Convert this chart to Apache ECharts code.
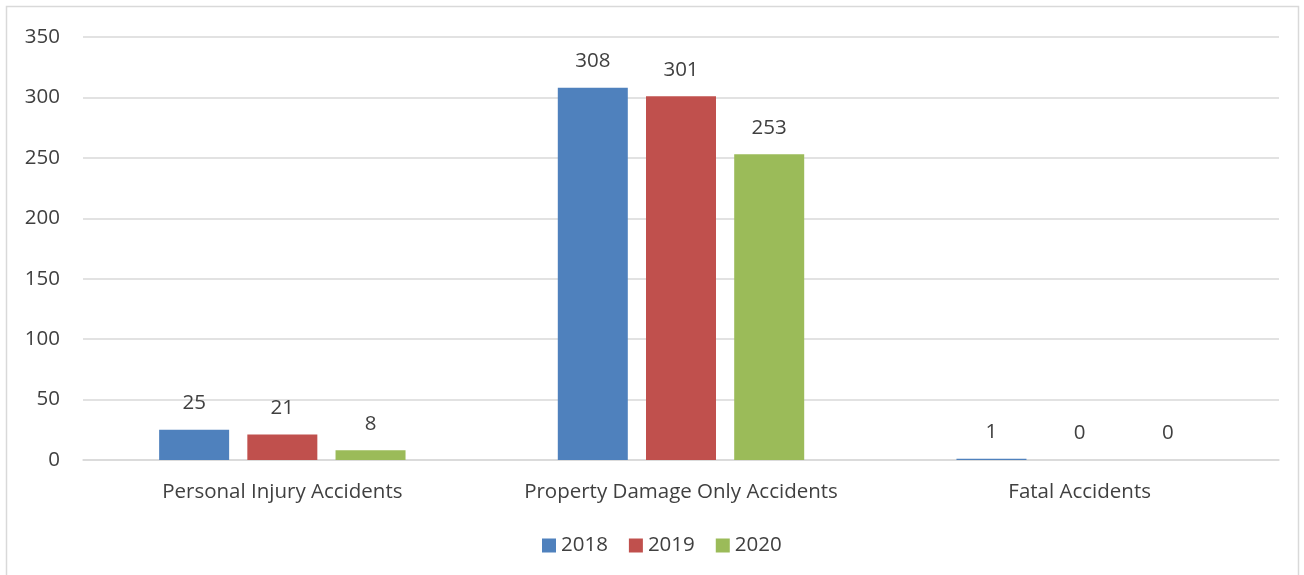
<!DOCTYPE html>
<html>
<head>
<meta charset="utf-8">
<script src="https://cdn.jsdelivr.net/npm/echarts@6.0.0/dist/echarts.min.js"></script>
<style>
  html, body { margin: 0; padding: 0; background: #fff; }
  #chart { width: 1304px; height: 575px; }
</style>
</head>
<body>
<div id="chart"></div>
<script>
var chartDom = document.getElementById('chart');
var myChart = echarts.init(chartDom);

const categories = ['Personal Injury Accidents', 'Property Damage Only Accidents', 'Fatal Accidents'];
const years = ['2018', '2019', '2020'];
const values2018 = [25, 308, 1];
const values2019 = [21, 301, 0];
const values2020 = [8, 253, 0];
const yTicks = [0, 50, 100, 150, 200, 250, 300, 350];

const colors = ['#4f81bd', '#c0504d', '#9bbb59'];
const font = '"Open Sans", "Liberation Sans", sans-serif';
const fs = 20.5;

const series = [values2018, values2019, values2020].map((vals, i) => ({
  name: years[i],
  type: 'bar',
  data: vals,
  barWidth: 70,
  barGap: '26%',
  itemStyle: { color: colors[i] },
  label: {
    show: true,
    position: 'top',
    distance: 16,
    color: '#404040',
    fontSize: fs,
    fontFamily: font
  }
}));

var option = {
  animation: false,
  graphic: [{
    type: 'rect',
    shape: { x: 6.5, y: 6.5, width: 1292, height: 620 },
    style: { fill: 'none', stroke: '#d9d9d9', lineWidth: 1.5 }
  }],
  grid: { left: 83, right: 25, top: 37, bottom: 115 },
  legend: {
    left: 537,
    bottom: 14,
    itemWidth: 14,
    itemHeight: 14,
    itemGap: 21,
    icon: 'rect',
    textStyle: { color: '#404040', fontSize: fs, fontFamily: font },
    data: years
  },
  xAxis: {
    type: 'category',
    data: categories,
    axisLine: { lineStyle: { color: '#d9d9d9', width: 1.5 } },
    axisTick: { show: false },
    axisLabel: {
      color: '#404040', fontSize: fs, fontFamily: font, margin: 22,
      interval: 0, hideOverlap: false
    }
  },
  yAxis: {
    type: 'value',
    min: yTicks[0],
    max: yTicks[yTicks.length - 1],
    interval: yTicks[1] - yTicks[0],
    axisLine: { show: false },
    axisTick: { show: false },
    splitLine: { lineStyle: { color: '#d9d9d9', width: 1.5 } },
    axisLabel: { color: '#404040', fontSize: fs, fontFamily: font, margin: 23 }
  },
  series
};

option && myChart.setOption(option);
</script>
</body>
</html>
